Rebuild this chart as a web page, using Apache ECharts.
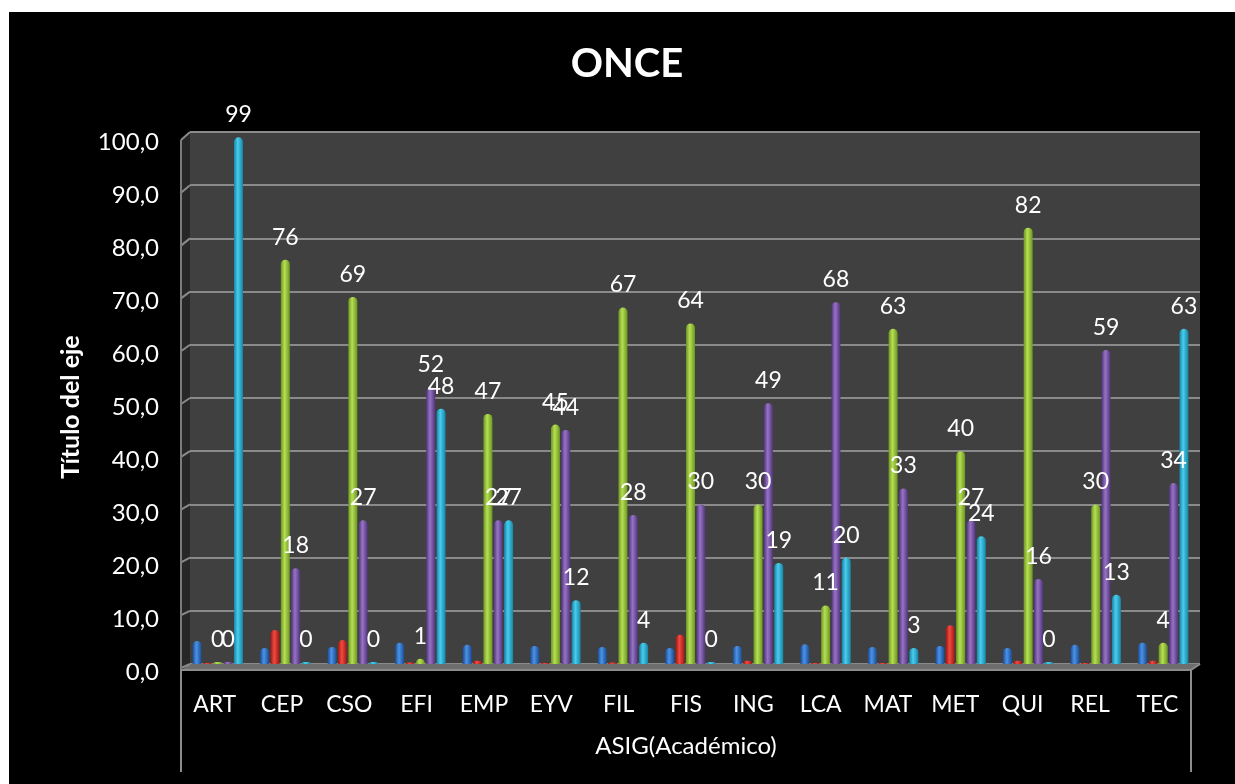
<!DOCTYPE html>
<html>
<head>
<meta charset="utf-8">
<script src="https://cdn.jsdelivr.net/npm/echarts@6/dist/echarts.min.js"></script>
<style>
  html, body { margin: 0; padding: 0; background: #fff; }
  #chart { width: 1235px; height: 784px; }
</style>
</head>
<body>
<div id="chart"></div>
<script>
// Categories and series values (percentages per subject)
const categories = ['ART', 'CEP', 'CSO', 'EFI', 'EMP', 'EYV', 'FIL', 'FIS', 'ING', 'LCA', 'MAT', 'MET', 'QUI', 'REL', 'TEC'];
const azul    = [4.3, 3.0, 3.2, 4.0, 3.6, 3.4, 3.2, 3.0, 3.4, 3.7, 3.2, 3.4, 3.0, 3.6, 4.0];
const rojo    = [0.2, 6.4, 4.5, 0.3, 0.6, 0.2, 0.3, 5.5, 0.6, 0.2, 0.2, 7.3, 0.6, 0.2, 0.6];
const verde   = [0, 76, 69, 1, 47, 45, 67, 64, 30, 11, 63, 40, 82, 30, 4];
const morado  = [0, 18, 27, 52, 27, 44, 28, 30, 49, 68, 33, 27, 16, 59, 34];
const celeste = [99, 0, 0, 48, 27, 12, 4, 0, 19, 20, 3, 24, 0, 13, 63];
const yMin = 0, yMax = 100, yStep = 10;

const FONT = 'Lato, "Open Sans", "DejaVu Sans", sans-serif';

// Layout of the pseudo-3D box
const wall = { left: 190, right: 1200, top: 132, bottom: 664 };   // back wall
const front = { left: 181, right: 1191, top: 142, bottom: 670 };  // front edge

function cyl(dark, light) {
  return {
    type: 'linear', x: 0, y: 0, x2: 1, y2: 0,
    colorStops: [
      { offset: 0, color: dark },
      { offset: 0.42, color: light },
      { offset: 1, color: dark }
    ]
  };
}

const palette = [
  cyl('#1b4c95', '#4b92e4'),
  cyl('#9a1814', '#f24a40'),
  cyl('#6b9720', '#b7de55'),
  cyl('#52337a', '#9674c4'),
  cyl('#1685a6', '#4accec')
];

function barSeries(name, data, color, labelled) {
  return {
    name: name,
    type: 'bar',
    xAxisIndex: 0,
    yAxisIndex: 0,
    data: data,
    barWidth: 9,
    barGap: '15%',
    barMinHeight: labelled ? 2 : 0,
    itemStyle: { color: color, borderRadius: [4.5, 4.5, 0, 0] },
    label: labelled ? {
      show: true,
      position: 'top',
      distance: 11,
      color: '#fff',
      fontFamily: FONT,
      fontSize: 23,
      formatter: '{c}'
    } : { show: false },
    z: 3
  };
}

const chart = echarts.init(document.getElementById('chart'), null, { renderer: 'canvas' });

// slanted gridline stubs across the left side wall
const perBack = (wall.bottom - wall.top) / (yMax - yMin);
const perFront = (front.bottom - 2 - 140) / (yMax - yMin);
const leftWallLines = [];
for (let v = yMin; v <= yMax; v += yStep) {
  leftWallLines.push({
    type: 'line', z: 1,
    shape: {
      x1: front.left, y1: front.bottom - 2 - (v - yMin) * perFront,
      x2: wall.left, y2: wall.bottom - (v - yMin) * perBack
    },
    style: { stroke: '#8a8a8a', lineWidth: 2 }
  });
}

chart.setOption({
  backgroundColor: '#fff',
  animation: false,
  textStyle: { fontFamily: FONT },
  grid: [
    // bars
    { left: 184, top: wall.top, width: 1013, height: wall.bottom - wall.top },
    // front axes (labels)
    { left: front.left, top: front.top, width: front.right - front.left, height: 672 - front.top },
    // back wall with gridlines
    { left: wall.left, top: wall.top, width: wall.right - wall.left, height: wall.bottom - wall.top,
      show: true, backgroundColor: '#404040', borderWidth: 0, z: 0 }
  ],
  xAxis: [
    { type: 'category', gridIndex: 0, data: categories, show: false },
    {
      type: 'category', gridIndex: 1, data: categories,
      axisLine: { show: false }, axisTick: { show: false },
      axisLabel: { color: '#fff', fontSize: 23, fontFamily: FONT, margin: 21, interval: 0 },
      name: 'ASIG(Académico)', nameLocation: 'middle', nameGap: 62,
      nameTextStyle: { color: '#fff', fontSize: 24, fontFamily: FONT }
    },
    { type: 'category', gridIndex: 2, data: categories, show: false }
  ],
  yAxis: [
    { type: 'value', gridIndex: 0, min: yMin, max: yMax, interval: yStep, show: false, splitLine: { show: false } },
    {
      type: 'value', gridIndex: 1, min: yMin, max: yMax, interval: yStep,
      axisLine: { show: false }, axisTick: { show: false }, splitLine: { show: false },
      axisLabel: {
        color: '#fff', fontSize: 24, fontFamily: FONT, margin: 22,
        formatter: function (v) { return v.toFixed(1).replace('.', ','); }
      },
      name: 'Título del eje', nameLocation: 'middle', nameGap: 98, nameRotate: 90,
      nameTextStyle: { color: '#fff', fontSize: 25, fontWeight: 'bold', fontFamily: FONT }
    },
    {
      type: 'value', gridIndex: 2, min: yMin, max: yMax, interval: yStep,
      axisLine: { show: false }, axisTick: { show: false }, axisLabel: { show: false },
      splitLine: { show: true, lineStyle: { color: '#8a8a8a', width: 2 } }
    }
  ],
  graphic: [
    // dark panel behind the whole chart
    { type: 'rect', z: -10, shape: { x: 9, y: 12, width: 1226, height: 772 }, style: { fill: '#000' } },
    // title
    { type: 'text', z: 5, x: 627, y: 64,
      style: { text: 'ONCE', fill: '#fff', font: 'bold 40px ' + FONT, align: 'center', verticalAlign: 'middle' } },
    // left side wall
    { type: 'polygon', z: 1,
      shape: { points: [[front.left, 140], [wall.left, wall.top], [wall.left, wall.bottom], [front.left, front.bottom]] },
      style: { fill: '#272727' } },
    // floor
    { type: 'polygon', z: 1,
      shape: { points: [[front.left, front.bottom], [wall.left, wall.bottom], [wall.right, wall.bottom], [front.right, front.bottom]] },
      style: { fill: '#6e6e6e' } },
    ...leftWallLines,
    // front edges
    { type: 'line', z: 4, shape: { x1: front.left, y1: 140, x2: front.left, y2: front.bottom },
      style: { stroke: '#7c7c7c', lineWidth: 2 } },
    { type: 'line', z: 4, shape: { x1: front.left, y1: front.bottom, x2: front.right, y2: front.bottom },
      style: { stroke: '#8c8c8c', lineWidth: 2 } },
    { type: 'line', z: 4, shape: { x1: front.right, y1: front.bottom, x2: wall.right, y2: wall.bottom },
      style: { stroke: '#8c8c8c', lineWidth: 2 } },
    // category table borders
    { type: 'line', z: 4, shape: { x1: front.left, y1: front.bottom, x2: front.left, y2: 772 },
      style: { stroke: '#8c8c8c', lineWidth: 2 } },
    { type: 'line', z: 4, shape: { x1: front.right, y1: front.bottom, x2: front.right, y2: 772 },
      style: { stroke: '#8c8c8c', lineWidth: 2 } }
  ],
  series: [
    barSeries('Serie 1', azul, palette[0], false),
    barSeries('Serie 2', rojo, palette[1], false),
    barSeries('Serie 3', verde, palette[2], true),
    barSeries('Serie 4', morado, palette[3], true),
    barSeries('Serie 5', celeste, palette[4], true)
  ]
});
</script>
</body>
</html>
